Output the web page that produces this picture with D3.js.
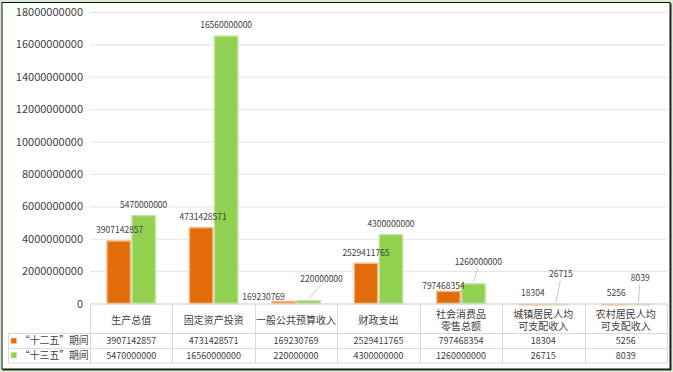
<!DOCTYPE html>
<html><head><meta charset="utf-8">
<script src="https://cdn.jsdelivr.net/npm/d3@7"></script>
<style>
html,body{margin:0;padding:0;background:#d7ecd0;}
svg{display:block;font-family:"Noto Sans CJK SC","Microsoft YaHei",sans-serif;}
</style></head><body>
<svg id="c" width="673" height="372"></svg>
<script>
const categories = ["生产总值","固定资产投资","一般公共预算收入","财政支出","社会消费品零售总额","城镇居民人均可支配收入","农村居民人均可支配收入"];
const categoryLines = [["生产总值"],["固定资产投资"],["一般公共预算收入"],["财政支出"],["社会消费品","零售总额"],["城镇居民人均","可支配收入"],["农村居民人均","可支配收入"]];
const seriesNames = ["“十二五”期间","“十三五”期间"];
const series125 = [3907142857, 4731428571, 169230769, 2529411765, 797468354, 18304, 5256];
const series135 = [5470000000, 16560000000, 220000000, 4300000000, 1260000000, 26715, 8039];
const yTicks = [0,2000000000,4000000000,6000000000,8000000000,10000000000,12000000000,14000000000,16000000000,18000000000];

// label nudges (pixels) as placed in the original
const labelNudge125 = [[1,0],[2,0],[-20,6],[0,0],[-5,5],[2,0],[3,0]];
const labelNudge135 = [[0,0],[0,0],[13,-11],[0,0],[5,-11],[5,-19],[2,-15]];
const leader135 = [false,false,true,false,true,true,true];

const svg = d3.select("#c");
const fills = ["#e36c0a","#92d050"];
const strokes = ["#f6b98a","#c3e3a4"];
const textCol = "#404040";
const L = 90, R = 667, T = 12, B = 303.5;

// frame
svg.append("rect").attr("x",0).attr("y",0).attr("width",673).attr("height",372).attr("fill","#d7ecd0");
svg.append("rect").attr("x",2.5).attr("y",3.5).attr("width",669).attr("height",367).attr("fill","#303030");
svg.append("rect").attr("x",2).attr("y",2.5).attr("width",668).attr("height",366.5).attr("fill","#fff").attr("stroke","#111").attr("stroke-width",1);

const x = d3.scaleBand().domain(categories).range([L,R]);
const bw = x.bandwidth();
const barW = 25;
const y = d3.scaleLinear().domain([0,18000000000]).range([B,T]);

// gridlines
const grid = svg.append("g").attr("transform",`translate(${L},0)`)
  .call(d3.axisLeft(y).tickValues(yTicks).tickSize(-(R-L)).tickFormat(""));
grid.select(".domain").remove();
grid.selectAll("line").attr("stroke","#e3e3e3").attr("stroke-width",1);

// y axis labels
const ya = svg.append("g").attr("transform",`translate(${L-7},0)`)
  .call(d3.axisLeft(y).tickValues(yTicks).tickSize(0).tickPadding(0).tickFormat(d3.format("d")));
ya.select(".domain").remove();
ya.selectAll("text").attr("fill",textCol).attr("font-size","11px").attr("font-family",'"Noto Sans CJK SC",sans-serif');

const allSeries = [series125, series135];
const nudges = [labelNudge125, labelNudge135];
const barLayer = svg.append("g");
const lineLayer = svg.append("g");
const labelLayer = svg.append("g");
allSeries.forEach((vals, si) => {
  barLayer.append("g").selectAll("rect").data(vals).join("rect")
    .attr("x",(d,i)=>x(categories[i]) + bw/2 - barW + si*barW + 0.75)
    .attr("y",d=>y(d)+0.75)
    .attr("width",barW-1.5)
    .attr("height",d=>Math.max(0.5,B - y(d) - 0.75))
    .attr("fill",fills[si]).attr("stroke",strokes[si]).attr("stroke-width",1.5);
  if (si===1) {
    lineLayer.selectAll("line").data(vals.map((v,i)=>({v,i})).filter(o=>leader135[o.i])).join("line")
      .attr("x1",o=>x(categories[o.i]) + bw/2 + barW/2 + nudges[si][o.i][0] - 0.5)
      .attr("y1",o=>y(o.v) - 10 + nudges[si][o.i][1] + 6)
      .attr("x2",o=>x(categories[o.i]) + bw/2 + barW/2)
      .attr("y2",o=>y(o.v) - 1)
      .attr("stroke","#b8b8b8").attr("stroke-width",0.8);
  }
  labelLayer.append("g").selectAll("text").data(vals).join("text")
    .attr("x",(d,i)=>x(categories[i]) + bw/2 - barW/2 + si*barW + nudges[si][i][0])
    .attr("y",(d,i)=>y(d) - 10 + nudges[si][i][1])
    .attr("dy","0.35em")
    .attr("text-anchor","middle")
    .attr("font-size","8.5px").attr("fill",textCol)
    .text(d=>d3.format("d")(d));
});

// data table
const tbl = svg.append("g");
const lineCol = "#d9d9d9";
const rowY = [304, 333.5, 348.5, 363];
const LL = 8;
[rowY[1],rowY[2],rowY[3]].forEach(yy=>{
  tbl.append("line").attr("x1",LL).attr("x2",R).attr("y1",yy).attr("y2",yy).attr("stroke",lineCol);
});
tbl.append("line").attr("x1",L).attr("x2",R).attr("y1",rowY[0]).attr("y2",rowY[0]).attr("stroke",lineCol);
const vx = categories.map(c=>x(c)).concat([R]);
tbl.selectAll("line.v").data(vx).join("line").attr("class","v")
  .attr("x1",d=>Math.round(d)+0.5).attr("x2",d=>Math.round(d)+0.5)
  .attr("y1",rowY[0]).attr("y2",rowY[3]).attr("stroke",lineCol);
tbl.append("line").attr("x1",LL+0.5).attr("x2",LL+0.5).attr("y1",rowY[1]).attr("y2",rowY[3]).attr("stroke",lineCol);

// header
categoryLines.forEach((lines,i)=>{
  const cx = x(categories[i]) + bw/2;
  lines.forEach((ln,k)=>{
    const yy = lines.length===1 ? 320 : 314.3 + k*11.7;
    tbl.append("text").attr("text-anchor","middle").attr("font-size","10px").attr("fill",textCol)
      .attr("x",cx).attr("y",yy).attr("dy","0.35em").text(ln);
  });
});
// rows
const rowCenters = [341, 355.5];
allSeries.forEach((vals,si)=>{
  tbl.append("rect").attr("x",11).attr("y",rowCenters[si]-3).attr("width",5.5).attr("height",5.5)
    .attr("fill",fills[si]).attr("stroke",strokes[si]).attr("stroke-width",0.8);
  tbl.append("text").attr("x",20).attr("y",rowCenters[si]).attr("dy","0.35em")
    .attr("font-size","9.8px").attr("fill",textCol).text(seriesNames[si]);
  tbl.append("g").selectAll("text").data(vals).join("text")
    .attr("x",(d,i)=>x(categories[i]) + bw/2)
    .attr("y",rowCenters[si]).attr("dy","0.35em")
    .attr("text-anchor","middle").attr("font-size","9px").attr("fill",textCol)
    .text(d=>d3.format("d")(d));
});
</script>
</body></html>
